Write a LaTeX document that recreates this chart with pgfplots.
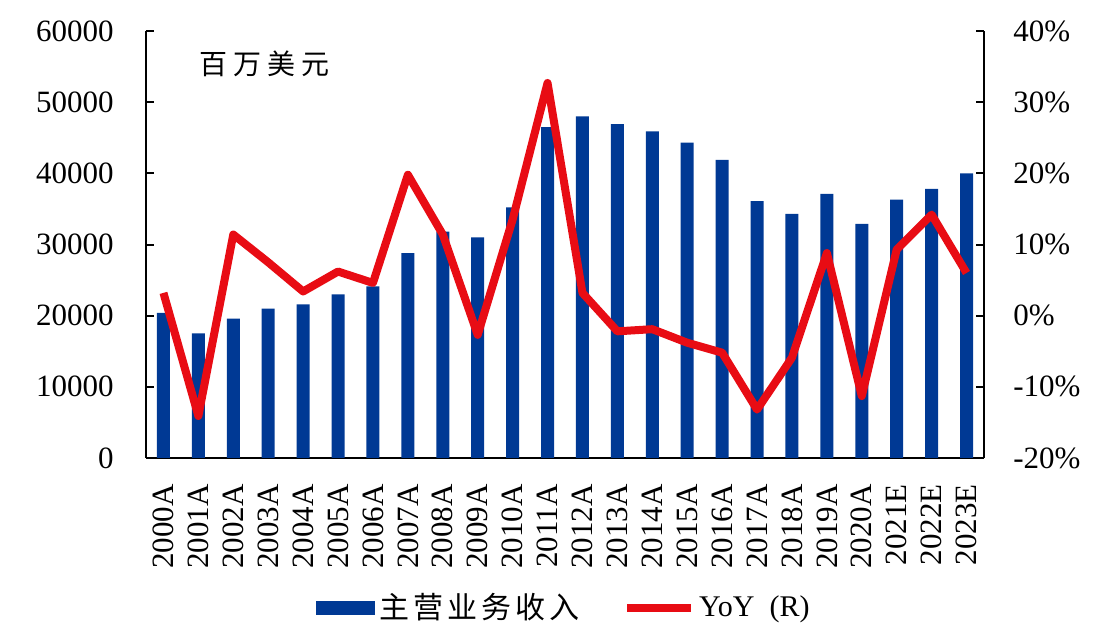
\documentclass[border=0pt]{standalone}
\usepackage{pgfplots}
\usepackage{pgfplotstable}
\pgfplotsset{compat=1.18}
\usepackage{fontspec}
\setmainfont{Liberation Serif}
\newfontfamily\cjk{Noto Sans CJK SC}
\definecolor{barblue}{RGB}{0,57,148}
\definecolor{linered}{RGB}{232,12,20}

% revenue (million USD) and YoY (%)
\pgfplotstableread{
x rev yoy
0 20400 3.2
1 17500 -14.1
2 19600 11.4
3 21000 7.5
4 21600 3.4
5 23000 6.2
6 24100 4.6
7 28800 19.8
8 31800 11.4
9 31000 -2.7
10 35200 13.5
11 46500 32.7
12 48000 3.2
13 46900 -2.2
14 45900 -1.9
15 44300 -3.8
16 41900 -5.2
17 36100 -13.2
18 34300 -5.9
19 37100 8.8
20 32900 -11.3
21 36300 9.3
22 37800 14.2
23 40000 6.0
}\data

\pgfplotsset{
  base/.style={
    width=419pt, height=213.5pt, scale only axis,
    xmin=-0.5, xmax=23.5,
    tick align=inside, major tick length=4pt,
    axis line style={line width=1pt,-},
    tick style={line width=1pt,black},
    ticklabel style={font=\fontsize{15.5}{18}\selectfont, inner sep=0pt},
    /pgf/number format/assume math mode=true,
  },
  barlegend/.style={legend image code/.code={\fill[barblue] (0pt,-3.25pt) rectangle (29pt,3.25pt);}},
  linelegend/.style={legend image code/.code={\draw[##1] (0pt,0pt) -- (32pt,0pt);}},
}

\begin{document}
\begin{tikzpicture}
\useasboundingbox (-73pt,-89pt) rectangle (484pt,229pt);
\begin{axis}[
  base,
  ymin=0, ymax=60000,
  axis y line*=left, axis x line*=bottom,
  ytick={0,10000,...,60000},
  scaled y ticks=false,
  yticklabel style={/pgf/number format/1000 sep={}},
  yticklabel shift=16pt,
  xtick={0,...,23},
  xtick style={draw=none},
  xticklabels={2000A,2001A,2002A,2003A,2004A,2005A,2006A,2007A,2008A,2009A,2010A,2011A,2012A,2013A,2014A,2015A,2016A,2017A,2018A,2019A,2020A,2021E,2022E,2023E},
  xticklabel style={rotate=90, anchor=east},
  xticklabel shift=9pt,
  ybar, bar width=6.5pt,
]
\addplot[fill=barblue, draw=none] table[x=x,y=rev]{\data};
\node[font=\cjk\fontsize{14}{16}\selectfont] at (rel axis cs:0.141,0.923) {百\hspace{3pt}万\hspace{3pt}美\hspace{3pt}元};
\end{axis}
\begin{axis}[
  base,
  ymin=-20, ymax=40,
  axis y line*=right, axis x line=none,
  ytick={-20,-10,...,40},
  yticklabels={-20\%,-10\%,0\%,10\%,20\%,30\%,40\%},
  yticklabel shift=14.5pt,
  legend style={at={(0.5,-0.351)}, anchor=center, draw=none, fill=none,
    legend columns=2, font=\fontsize{15}{18}\selectfont,
    /tikz/every even column/.append style={column sep=20pt}},
]
\addlegendimage{barlegend}
\addlegendentry{\cjk 主\hspace{2pt}营\hspace{2pt}业\hspace{2pt}务\hspace{2pt}收\hspace{2pt}入}
\addplot[linered, line width=4pt, line join=round, linelegend]
  table[x=x,y=yoy]{\data};
\addlegendentry{YoY\hspace{0.5em}(R)}
\end{axis}
\end{tikzpicture}
\end{document}
